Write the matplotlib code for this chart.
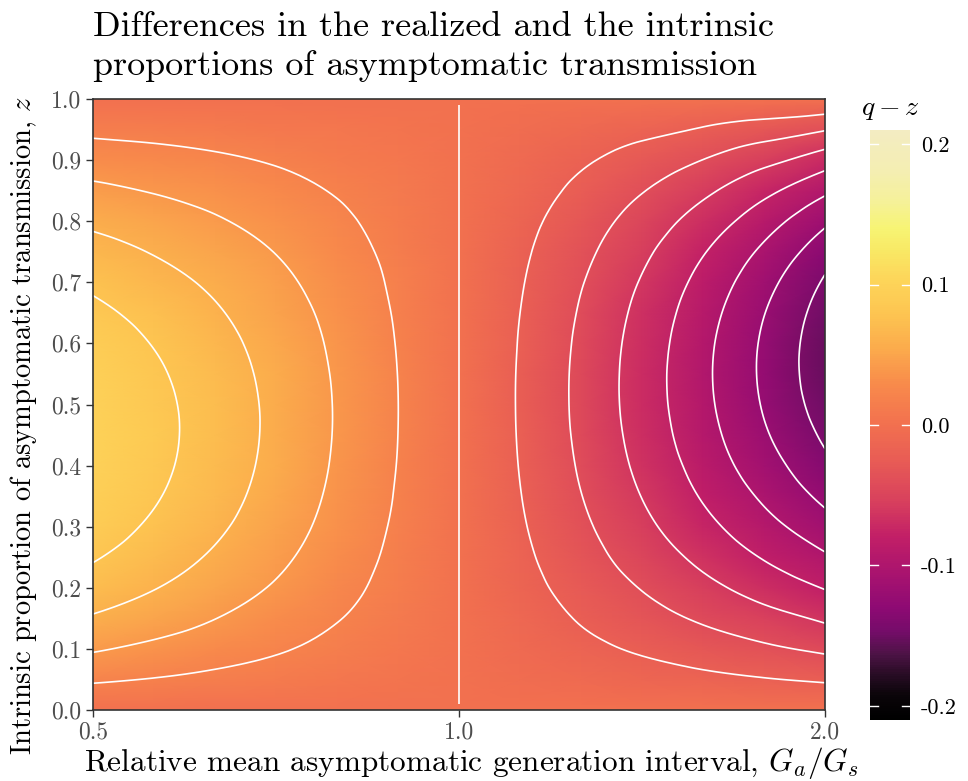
import numpy as np
import matplotlib
matplotlib.use('Agg')
import matplotlib.pyplot as plt
import matplotlib.tri as mtri
from matplotlib.colors import LinearSegmentedColormap

plt.rcParams['font.family'] = 'serif'
plt.rcParams['font.serif'] = ['cmr10']
plt.rcParams['mathtext.fontset'] = 'cm'
plt.rcParams['axes.unicode_minus'] = False
plt.rcParams['axes.formatter.use_mathtext'] = True

# relative mean asymptomatic generation interval Ga/Gs (log spaced columns)
ratio_vals = [0.5, 0.561, 0.63, 0.707, 0.794, 0.891, 1.0, 1.122, 1.26, 1.414, 1.587, 1.782, 2.0]
# intrinsic proportion of asymptomatic transmission z
z_vals = [0.0, 0.01, 0.05, 0.1, 0.15, 0.2, 0.25, 0.3, 0.35, 0.4, 0.45, 0.5,
          0.55, 0.6, 0.65, 0.7, 0.75, 0.8, 0.85, 0.9, 0.95, 0.99, 1.0]

# q - z, one row per Ga/Gs value, read along z
diff_vals = [
    [0, 0.00481, 0.02264, 0.04190, 0.05801, 0.07118, 0.08160, 0.08944, 0.09487, 0.09804, 0.09908, 0.09812,
     0.09527, 0.09064, 0.08432, 0.07642, 0.06701, 0.05618, 0.04400, 0.03053, 0.01584, 0.00326, 0],
    [0, 0.00406, 0.01914, 0.03555, 0.04939, 0.06081, 0.06993, 0.07689, 0.08180, 0.08477, 0.08590, 0.08528,
     0.08302, 0.07917, 0.07383, 0.06706, 0.05894, 0.04952, 0.03886, 0.02702, 0.01405, 0.00289, 0],
    [0, 0.00327, 0.01549, 0.02889, 0.04028, 0.04976, 0.05742, 0.06334, 0.06759, 0.07026, 0.07141, 0.07111,
     0.06941, 0.06638, 0.06206, 0.05652, 0.04979, 0.04193, 0.03298, 0.02298, 0.01198, 0.00247, 0],
    [0, 0.00247, 0.01173, 0.02196, 0.03073, 0.03811, 0.04414, 0.04886, 0.05232, 0.05456, 0.05564, 0.05558,
     0.05441, 0.05219, 0.04894, 0.04470, 0.03949, 0.03334, 0.02630, 0.01837, 0.00960, 0.00199, 0],
    [0, 0.00165, 0.00788, 0.01480, 0.02080, 0.02589, 0.03009, 0.03344, 0.03594, 0.03761, 0.03849, 0.03858,
     0.03790, 0.03647, 0.03431, 0.03143, 0.02786, 0.02360, 0.01867, 0.01308, 0.00685, 0.00142, 0],
    [0, 0.00083, 0.00395, 0.00746, 0.01053, 0.01316, 0.01535, 0.01713, 0.01848, 0.01942, 0.01994, 0.02006,
     0.01978, 0.01911, 0.01804, 0.01659, 0.01475, 0.01254, 0.00995, 0.00700, 0.00368, 0.00077, 0],
    [0, 0, 0, 0, 0, 0, 0, 0, 0, 0, 0, 0, 0, 0, 0, 0, 0, 0, 0, 0, 0, 0, 0],
    [0, -0.00082, -0.00395, -0.00751, -0.01069, -0.01347, -0.01585, -0.01783, -0.01940, -0.02055, -0.02129, -0.02159,
     -0.02147, -0.02091, -0.01991, -0.01846, -0.01655, -0.01419, -0.01136, -0.00805, -0.00427, -0.00089, 0],
    [0, -0.00163, -0.00785, -0.01501, -0.02144, -0.02713, -0.03206, -0.03622, -0.03958, -0.04212, -0.04382, -0.04466,
     -0.04461, -0.04366, -0.04176, -0.03891, -0.03506, -0.03020, -0.02430, -0.01732, -0.00923, -0.00194, 0],
    [0, -0.00241, -0.01168, -0.02241, -0.03216, -0.04087, -0.04851, -0.05504, -0.06042, -0.06460, -0.06753, -0.06915,
     -0.06942, -0.06827, -0.06565, -0.06149, -0.05572, -0.04826, -0.03905, -0.02799, -0.01501, -0.00317, 0],
    [0, -0.00317, -0.01540, -0.02966, -0.04272, -0.05452, -0.06500, -0.07408, -0.08169, -0.08776, -0.09219, -0.09488,
     -0.09575, -0.09468, -0.09156, -0.08625, -0.07862, -0.06853, -0.05580, -0.04027, -0.02174, -0.00462, 0],
    [0, -0.00389, -0.01897, -0.03667, -0.05303, -0.06796, -0.08137, -0.09316, -0.10321, -0.11141, -0.11762, -0.12170,
     -0.12349, -0.12281, -0.11947, -0.11325, -0.10392, -0.09121, -0.07481, -0.05440, -0.02961, -0.00633, 0],
    [0, -0.00457, -0.02235, -0.04338, -0.06297, -0.08102, -0.09741, -0.11201, -0.12467, -0.13522, -0.14349, -0.14927,
     -0.15232, -0.15239, -0.14919, -0.14239, -0.13159, -0.11638, -0.09624, -0.07060, -0.03878, -0.00836, 0],
]

contour_levels = [-0.14, -0.12, -0.10, -0.08, -0.06, -0.04, -0.02, 0.02, 0.04, 0.06, 0.08]
cbar_ticks = [-0.2, -0.1, 0.0, 0.1, 0.2]
cbar_labels = ['-0.2', '-0.1', '0.0', '0.1', '0.2']

# colour scale sampled from the legend bar
cmap = LinearSegmentedColormap.from_list('qz', [
    (0.00, '#000000'), (0.04, '#0a0509'), (0.08, '#2c0d28'), (0.11, '#4d1346'),
    (0.15, '#760c6a'), (0.19, '#8e0a73'), (0.245, '#a8136f'), (0.31, '#c21f67'),
    (0.37, '#d8405d'), (0.44, '#e85c55'), (0.50, '#f2704f'), (0.57, '#f88b4b'),
    (0.63, '#fbab4c'), (0.69, '#fdc551'), (0.75, '#fdd65a'), (0.80, '#f8ea66'),
    (0.835, '#f7f474'), (0.88, '#f5f199'), (0.93, '#f4eeb1'), (1.00, '#f3ecc2'),
])

X, Z = np.meshgrid(ratio_vals, z_vals)
C = np.array(diff_vals).T

fig = plt.figure(figsize=(9.68, 7.81), dpi=100)
ax = fig.add_axes([0.0961, 0.0909, 0.7562, 0.7823])
cax = fig.add_axes([0.8988, 0.0781, 0.0413, 0.7554])

ax.set_xscale('log')
mesh = ax.pcolormesh(X, Z, C, shading='gouraud', cmap=cmap, vmin=-0.21, vmax=0.21)

# smooth contour lines through matplotlib's cubic triangulation refiner
tri = mtri.Triangulation(X.ravel(), Z.ravel())
interp = mtri.CubicTriInterpolator(tri, C.ravel(), kind='geom')
tri_fine, c_fine = mtri.UniformTriRefiner(tri).refine_field(C.ravel(), triinterpolator=interp, subdiv=3)
ax.tricontour(tri_fine, c_fine, levels=contour_levels, colors='white',
              linewidths=1.2, linestyles='solid')
# zero contour (Ga = Gs)
ax.contour(X[1:-1], Z[1:-1], C[1:-1], levels=[0.0], colors='white', linewidths=1.2)

ax.set_xlim(0.5, 2.0)
ax.set_ylim(0, 1)
ax.set_xticks([0.5, 1.0, 2.0])
ax.set_xticklabels(['0.5', '1.0', '2.0'])
ax.xaxis.set_minor_locator(matplotlib.ticker.NullLocator())
ax.set_yticks(np.round(np.arange(0, 1.01, 0.1), 1))
ax.set_yticklabels([f'{v:.1f}' for v in np.arange(0, 1.01, 0.1)])
ax.tick_params(labelsize=17, labelcolor='#4d4d4d', color='#333333', length=5, width=1)
for sp in ax.spines.values():
    sp.set_color('#333333')
    sp.set_linewidth(1.2)

ax.set_xlabel('Relative mean asymptomatic generation interval, $G_a/G_s$', fontsize=22.5)
ax.xaxis.set_label_coords(0.517, -0.058)
ax.set_ylabel('Intrinsic proportion of asymptomatic transmission, $z$', fontsize=20.5)
ax.yaxis.set_label_coords(-0.0735, 0.465)

fig.text(93 / 968, 1 - 11 / 781,
         'Differences in the realized and the intrinsic\nproportions of asymptomatic transmission',
         ha='left', va='top', fontsize=26, linespacing=1.3)

# legend bar
cb = fig.colorbar(mesh, cax=cax)
cb.outline.set_visible(False)
cb.set_ticks(cbar_ticks)
cb.set_ticklabels(cbar_labels)
cax.tick_params(length=0, labelsize=16, pad=8)
for t in cbar_ticks:
    cax.plot([0, 0.2], [t, t], color='white', lw=1, transform=cax.get_yaxis_transform())
    cax.plot([0.8, 1], [t, t], color='white', lw=1, transform=cax.get_yaxis_transform())
cax.set_title('$q - z$', fontsize=20, pad=11)

fig.savefig('out.png', dpi=100)
